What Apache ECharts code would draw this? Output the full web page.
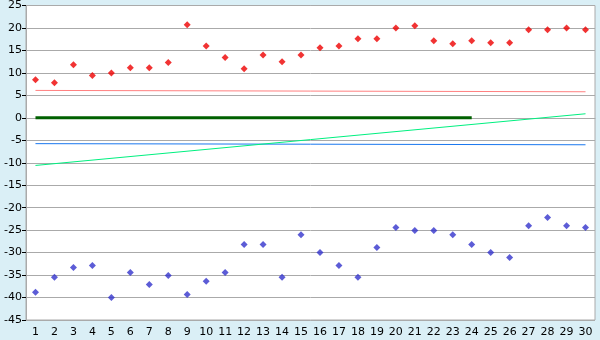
<!DOCTYPE html>
<html><head><meta charset="utf-8">
<script src="https://cdn.jsdelivr.net/npm/echarts@6/dist/echarts.min.js"></script>
<style>html,body{margin:0;padding:0;background:#daeff6;}#c{width:600px;height:340px;}</style>
</head><body><div id="c"></div>
<script>
var categories = ['1','2','3','4','5','6','7','8','9','10','11','12','13','14','15','16','17','18','19','20','21','22','23','24','25','26','27','28','29','30'];
var redPoints = [8.5,7.8,11.8,9.4,10.0,11.15,11.15,12.3,20.7,16.0,13.4,10.9,14.0,12.5,14.0,15.6,16.0,17.6,17.6,20.0,20.5,17.15,16.5,17.15,16.7,16.7,19.6,19.6,20.0,19.6];
var bluePoints = [-38.85,-35.5,-33.3,-32.85,-40.0,-34.4,-37.1,-35.1,-39.3,-36.4,-34.4,-28.2,-28.2,-35.5,-26.0,-30.0,-32.85,-35.5,-28.85,-24.4,-25.1,-25.1,-26.0,-28.2,-30.0,-31.1,-24.0,-22.2,-24.0,-24.4];
// line segments: [startCategoryIndex, startValue, endCategoryIndex, endValue]
var redLine = [0, 6.1, 29, 5.8];
var blueLine = [0, -5.75, 29, -6.0];
var zeroLine = [0, 0, 23, 0];
var trendLine = [0, -10.6, 29, 0.9];
var yTicks = {min: -45, max: 25, interval: 5};

function seg(s){ return [[s[0], s[1]], [s[2], s[3]]]; }
var chart = echarts.init(document.getElementById('c'), null, {renderer:'canvas'});
var lineSeries = function(s, color, w){
  return {type:'line', data: seg(s), symbol:'none', silent:true, animation:false,
    lineStyle:{color:color, width:w}, z:2};
};
chart.setOption({
  backgroundColor:'#daeff6',
  animation:false,
  grid:{left:26, right:5, top:5, bottom:20, show:true, backgroundColor:'#ffffff', borderColor:'#aaaaaa', borderWidth:1},
  xAxis:{type:'category', data:categories, boundaryGap:true,
    axisLine:{lineStyle:{color:'#aaaaaa'}},
    axisTick:{alignWithLabel:true, length:5, lineStyle:{color:'#000'}},
    axisLabel:{color:'#000', fontFamily:'DejaVu Sans', fontSize:11, margin:7, interval:0},
    splitLine:{show:false}},
  yAxis:{type:'value', min:yTicks.min, max:yTicks.max, interval:yTicks.interval,
    axisLine:{show:true, lineStyle:{color:'#aaaaaa'}},
    axisTick:{show:true, length:4, lineStyle:{color:'#000'}},
    axisLabel:{color:'#000', fontFamily:'DejaVu Sans', fontSize:11, margin:4},
    splitLine:{lineStyle:{color:'#aaaaaa', width:1}}},
  series:[
    lineSeries(redLine, '#ff8080', 1),
    lineSeries(blueLine, '#1a78f0', 1),
    lineSeries(trendLine, '#00f080', 1),
    lineSeries(zeroLine, '#006000', 3),
    {type:'scatter', data:redPoints, symbol:'diamond', symbolSize:7, itemStyle:{color:'#ee0000'}, z:3},
    {type:'scatter', data:bluePoints, symbol:'diamond', symbolSize:7, itemStyle:{color:'#3333cc'}, z:3}
  ]
});
</script></body></html>
